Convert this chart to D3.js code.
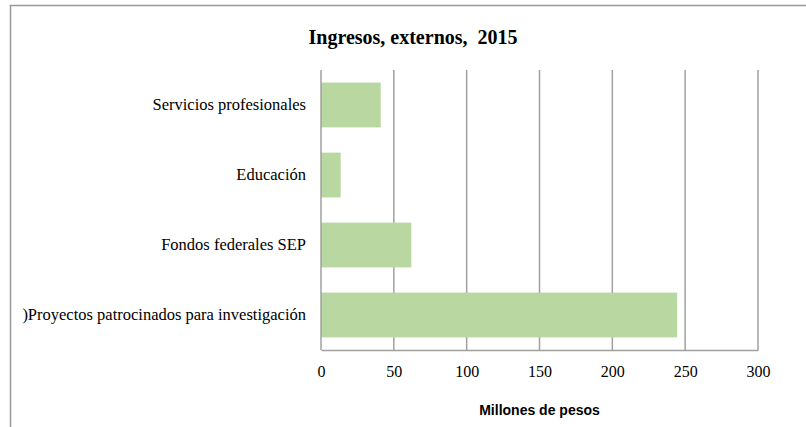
<!DOCTYPE html>
<html>
<head>
<meta charset="utf-8">
<script src="https://cdn.jsdelivr.net/npm/d3@7"></script>
<style>
  body { margin: 0; background: #fff; }
  .tick text { font-family: "Liberation Serif", "Times New Roman", serif; fill: #000; }
</style>
</head>
<body>
<div id="chart"></div>
<script>
const categories = ["Servicios profesionales", "Educación", "Fondos federales SEP", ")Proyectos patrocinados para investigación"];
const values = [41, 13.5, 62, 244.5];
const xTicks = [0, 50, 100, 150, 200, 250, 300];
const title = "Ingresos, externos,  2015";
const xTitle = "Millones de pesos";

const width = 806, height = 427;
const margin = { left: 321, right: 48, top: 70, bottom: 77 };

const svg = d3.select("#chart").append("svg")
  .attr("width", width).attr("height", height);

// chart frame (only top and left edges show)
svg.append("path").attr("d", "M10.5," + height + "V5.5H" + width)
  .attr("fill", "none").attr("stroke", "#999").attr("stroke-width", 1.5);

const xScale = d3.scaleLinear().domain([0, 300]).range([margin.left, width - margin.right]);
const yScale = d3.scaleBand().domain(categories).range([margin.top, height - margin.bottom])
  .paddingInner(0.36).paddingOuter(0.18);

// gridlines
svg.append("g").selectAll("line").data(xTicks.slice(1)).enter().append("line")
  .attr("x1", d => xScale(d)).attr("x2", d => xScale(d))
  .attr("y1", margin.top).attr("y2", height - margin.bottom)
  .attr("stroke", "#a0a0a0").attr("stroke-width", 1.5);

svg.append("g").selectAll("rect").data(values).enter().append("rect")
  .attr("x", xScale(0))
  .attr("y", (d, i) => yScale(categories[i]))
  .attr("width", d => xScale(d) - xScale(0))
  .attr("height", yScale.bandwidth())
  .attr("fill", "#b8d7a1");

// x axis
const xAxis = svg.append("g").attr("transform", "translate(0," + (height - margin.bottom) + ")")
  .call(d3.axisBottom(xScale).tickValues(xTicks).tickSize(0).tickPadding(16));
xAxis.select(".domain").attr("stroke", "#a0a0a0").attr("stroke-width", 1.5);
xAxis.selectAll("text").attr("font-size", 16);

// y axis
const yAxis = svg.append("g").attr("transform", "translate(" + margin.left + ",0)")
  .call(d3.axisLeft(yScale).tickSize(0).tickPadding(15));
yAxis.select(".domain").attr("stroke", "#a0a0a0").attr("stroke-width", 1.5)
  .attr("d", "M0," + margin.top + "V" + (height - margin.bottom));
yAxis.selectAll("text").attr("font-size", 16.5);

svg.append("text").attr("x", 413).attr("y", 44).attr("text-anchor", "middle")
  .attr("font-family", "Liberation Serif, serif").attr("font-weight", "bold").attr("font-size", 20)
  .style("white-space", "pre")
  .text(title);

svg.append("text").attr("x", (xScale(0) + xScale(300)) / 2).attr("y", 415).attr("text-anchor", "middle")
  .attr("font-family", "Liberation Sans, Arial, sans-serif").attr("font-weight", "bold").attr("font-size", 14)
  .text(xTitle);
</script>
</body>
</html>
